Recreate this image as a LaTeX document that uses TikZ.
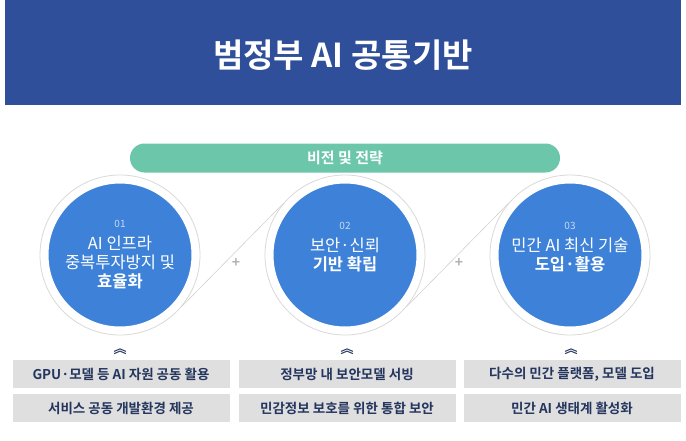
\documentclass[tikz,border=0pt]{standalone}
\usepackage{fontspec}
\setmainfont{Noto Sans CJK KR}
\newfontfamily\krb{Noto Sans CJK KR Bold}
\begin{document}
\begin{tikzpicture}[x=1pt,y=-1pt,
 circ/.style={circle,fill=blueC,draw=white,line width=7pt,minimum size=150pt,text=white,font=\fontsize{16.5}{19}\selectfont,align=center,inner sep=0pt},
 ring/.style={circle,draw=gray!30,line width=0.8pt,minimum size=160pt},
 box/.style={fill=gray!25,minimum width=217pt,minimum height=28pt,text=navy,font=\krb\fontsize{13.5}{15}\selectfont,inner sep=0pt},
 conn/.style={draw=gray!35,line width=0.6pt}]
\definecolor{navy}{HTML}{24365E}
\definecolor{blueC}{HTML}{3D82D8}
\definecolor{titleC}{HTML}{2F4F9A}
\definecolor{greenC}{HTML}{6CC7AA}
\useasboundingbox (0,0) rectangle (686,440);
\fill[white] (0,0) rectangle (686,440);
\fill[titleC] (5,0) rectangle (681,105);
\node[text=white,font=\krb\fontsize{33}{36}\selectfont] (title) at (343,55) {범정부 AI 공통기반};
\node[fill=greenC,rounded corners=14.5pt,minimum width=430pt,minimum height=29pt,text=white,font=\krb\fontsize{15}{17}\selectfont] (vision) at (345,158) {비전 및 전략};
\foreach \n/\x in {a/120,b/345,c/570}{\node[ring] (r\n) at (\x,255) {};}
\draw[conn] (ra.-40) -- (rb.140);
\draw[conn] (rb.-40) -- (rc.140);
\node[circ] (ca) at (120,255) {{\fontsize{10}{12}\selectfont\color{white!70!blueC}01}\\[3pt]AI 인프라\\중복투자방지 및\\{\krb 효율화}};
\node[circ] (cb) at (345,255) {{\fontsize{10}{12}\selectfont\color{white!70!blueC}02}\\[3pt]보안·신뢰\\{\krb 기반 확립}\\[-2pt]};
\node[circ] (cc) at (570,255) {{\fontsize{10}{12}\selectfont\color{white!70!blueC}03}\\[3pt]민간 AI 최신 기술\\{\krb 도입·활용}\\[-2pt]};
\node[text=gray!60,font=\krb\fontsize{14}{14}\selectfont] (p1) at (236,263) {+};
\node[text=gray!60,font=\krb\fontsize{14}{14}\selectfont] (p2) at (459,263) {+};
\foreach \n/\x in {a/120,b/347,c/571}{\node[text=navy,font=\krb\fontsize{13}{13}\selectfont,inner sep=0pt] (ch\n) at (\x,352) {︽};}
\node[box] (a1) at (121,374) {GPU·모델 등 AI 자원 공동 활용};
\node[box] (a2) at (121,408) {서비스 공동 개발환경 제공};
\node[box] (b1) at (347,374) {정부망 내 보안모델 서빙};
\node[box] (b2) at (347,408) {민감정보 보호를 위한 통합 보안};
\node[box] (c1) at (572,374) {다수의 민간 플랫폼, 모델 도입};
\node[box] (c2) at (572,408) {민간 AI 생태계 활성화};
\end{tikzpicture}
\end{document}
